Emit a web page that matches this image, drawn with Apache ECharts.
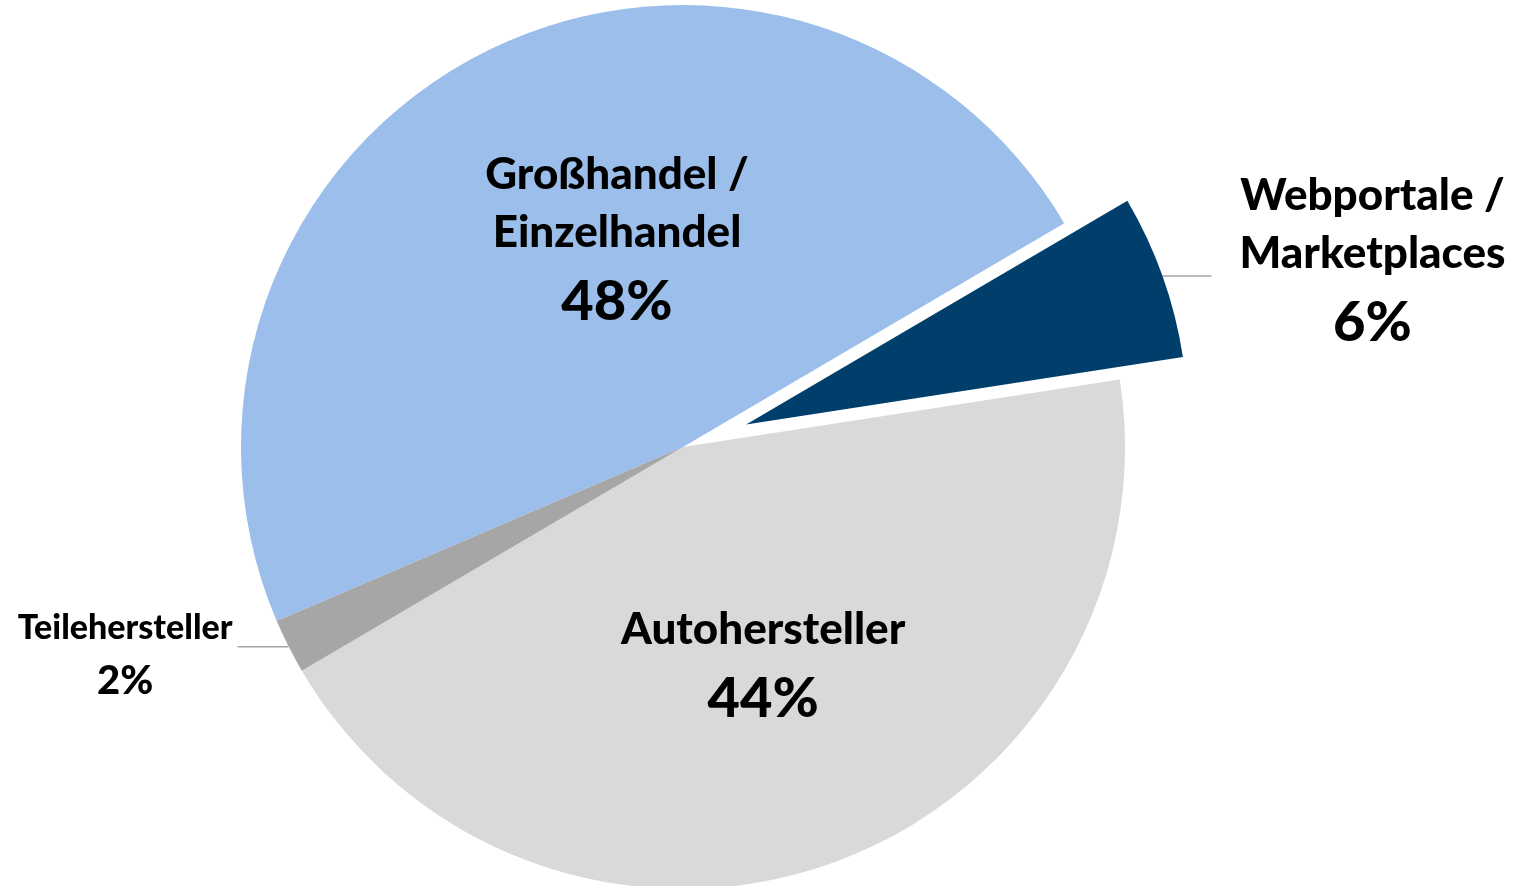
<!DOCTYPE html>
<html>
<head>
<meta charset="utf-8">
<script src="https://cdn.jsdelivr.net/npm/echarts@6/dist/echarts.min.js"></script>
<style>
  html, body { margin: 0; padding: 0; background: #fff; }
  #main { width: 1517px; height: 886px; }
</style>
</head>
<body>
<div id="main"></div>
<script>
const categories = ['Großhandel / Einzelhandel', 'Webportale / Marketplaces', 'Autohersteller', 'Teilehersteller'];
const shares = [48, 6, 44, 2];
const colors = ['#9BBEEB', '#003F6B', '#D9D9D9', '#A6A6A6'];
const explodedIndex = 1;

const font = 'Lato, "Noto Sans", sans-serif';
const weight = 900;

// per-slice label placement (inside / outside, nudges)
const labelCfg = [
  { position: 'inside', padding: [0, 0, 6, 70], big: true },
  { position: 'outside', padding: [0, 0, 22, 0], big: true, length2: 48, distance: 28 },
  { position: 'inside', padding: [24, 0, 0, 10], big: true },
  { position: 'outside', padding: [28, 0, 0, 0], big: false, length2: 50, distance: 5 }
];

function labelText(p) {
  const big = labelCfg[p.dataIndex].big;
  const n = big ? 'n' : 'sn';
  const v = big ? 'p' : 'sp';
  return '{' + n + '|' + p.name.replace(' / ', ' /\n') + '}\n{' + v + '|' + Math.round(p.percent) + '%}';
}

const chart = echarts.init(document.getElementById('main'));

const data = categories.map((name, i) => {
  const c = labelCfg[i];
  const item = {
    name: name,
    value: shares[i],
    itemStyle: { color: colors[i] },
    label: { position: c.position, padding: c.padding }
  };
  if (c.position === 'outside') {
    item.label.distanceToLabelLine = c.distance;
    item.labelLine = { show: true, length: 1, length2: c.length2, lineStyle: { color: '#A6A6A6', width: 1.5 } };
  } else {
    item.labelLine = { show: false };
  }
  if (i === explodedIndex) item.selected = true;
  return item;
});

chart.setOption({
  animation: false,
  series: [{
    type: 'pie',
    center: [683, 447],
    radius: 442,
    startAngle: 203.2,
    clockwise: true,
    selectedMode: 'single',
    selectedOffset: 67,
    avoidLabelOverlap: false,
    emphasis: { disabled: true },
    select: { itemStyle: { borderWidth: 0 } },
    label: {
      show: true,
      formatter: labelText,
      color: '#000',
      fontFamily: font,
      rich: {
        n: { fontSize: 44, fontWeight: weight, fontFamily: font, lineHeight: 58, align: 'center', color: '#000' },
        p: { fontSize: 56, fontWeight: weight, fontFamily: font, lineHeight: 80, align: 'center', color: '#000' },
        sn: { fontSize: 34, fontWeight: weight, fontFamily: font, lineHeight: 40, align: 'center', color: '#000' },
        sp: { fontSize: 40, fontWeight: weight, fontFamily: font, lineHeight: 66, align: 'center', color: '#000' }
      }
    },
    data: data
  }]
});
</script>
</body>
</html>
